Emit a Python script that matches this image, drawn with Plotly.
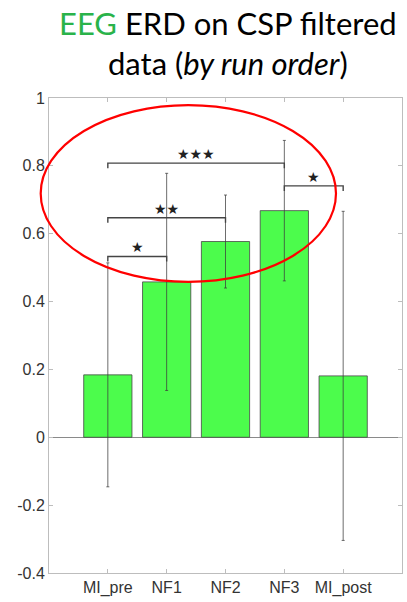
import plotly.graph_objects as go

# Mean ERD per run and its spread
runs = ["MI_pre", "NF1", "NF2", "NF3", "MI_post"]
erd_mean = [0.184, 0.458, 0.577, 0.668, 0.181]
erd_err = [0.330, 0.320, 0.137, 0.207, 0.485]

# Significance brackets: (from run, to run, bracket height, label)
sig_from = ["MI_pre", "MI_pre", "MI_pre", "NF3"]
sig_to = ["NF1", "NF2", "NF3", "MI_post"]
sig_height = [0.533, 0.647, 0.808, 0.741]
sig_label = ["★", "★★", "★★★", "★"]

y_ticks = [-0.4, -0.2, 0, 0.2, 0.4, 0.6, 0.8, 1]
y_tick_text = ["-0.4", "-0.2", "0", "0.2", "0.4", "0.6", "0.8", "1"]

AXIS_GREY = "#bdbdbd"
TEXT_GREY = "#333333"
LEG = 0.015

fig = go.Figure()

fig.add_trace(go.Bar(
    x=runs, y=erd_mean, width=0.82,
    marker=dict(color="#4cfc4c", line=dict(color="rgba(70,70,70,0.8)", width=1)),
    error_y=dict(type="data", array=erd_err, visible=True,
                 color="rgba(60,60,60,0.75)", thickness=1, width=1.5),
    showlegend=False, hoverinfo="skip",
))

idx = {r: i for i, r in enumerate(runs)}
for a, b, h, lab in zip(sig_from, sig_to, sig_height, sig_label):
    fig.add_trace(go.Scatter(
        x=[a, a, b, b], y=[h - LEG, h, h, h - LEG],
        mode="lines", line=dict(color="#444444", width=1.4),
        showlegend=False, hoverinfo="skip",
    ))
    mid = (idx[a] + idx[b]) / 2
    fig.add_annotation(
        x=mid, y=h, xref="x", yref="y", text=lab, showarrow=False,
        yanchor="bottom", yshift=-1,
        font=dict(family="DejaVu Sans", size=14, color="#222222"),
    )

# Highlight around the significant comparisons
fig.add_shape(
    type="circle", xref="paper", yref="paper",
    x0=-0.0235, x1=0.813, y0=0.613, y1=0.985,
    line=dict(color="#ff0000", width=2.2), layer="above",
)

fig.add_annotation(
    x=0.507, y=1.203, xref="paper", yref="paper",
    xanchor="center", yanchor="top", showarrow=False, align="center",
    text="<span style='color:#2ab34a'>EEG</span> ERD on CSP filtered<br>data (<i>by run order</i>)",
    font=dict(family="Lato", size=31, color="#000000"),
)

axis_common = dict(
    showline=True, linecolor=AXIS_GREY, linewidth=1, mirror="ticks",
    ticks="inside", ticklen=4, tickcolor=AXIS_GREY, showgrid=False,
    tickfont=dict(family="Liberation Sans", size=16, color=TEXT_GREY),
)

fig.update_layout(
    width=407, height=602,
    margin=dict(l=49, r=5, t=98, b=29),
    paper_bgcolor="white", plot_bgcolor="white",
    xaxis=dict(range=[-1, 5], type="category", **axis_common),
    yaxis=dict(range=[-0.4, 1], tickvals=y_ticks, ticktext=y_tick_text,
               zeroline=True, zerolinecolor="#8a8a8a", zerolinewidth=1,
               **axis_common),
    bargap=0.2,
)

fig.write_html("out.html")
